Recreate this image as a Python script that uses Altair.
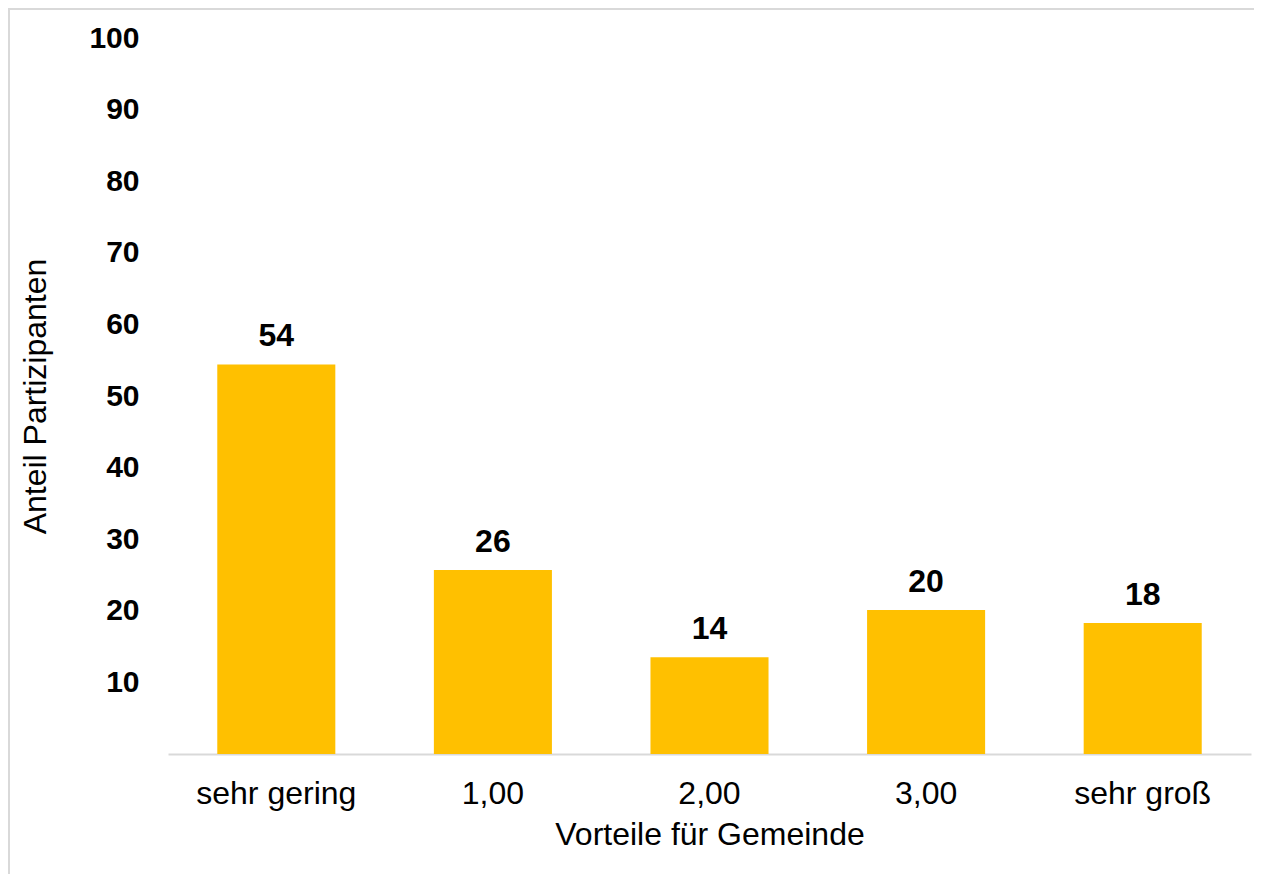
import altair as alt
import pandas as pd

categories = ["sehr gering", "1,00", "2,00", "3,00", "sehr groß"]
values = [54.4, 25.7, 13.5, 20.1, 18.3]
labels = ["54", "26", "14", "20", "18"]
y_ticks = [10, 20, 30, 40, 50, 60, 70, 80, 90, 100]

df = pd.DataFrame({"cat": categories, "val": values, "lab": labels})

FONT = "Liberation Sans"

x_enc = alt.X(
    "cat:N",
    sort=categories,
    scale=alt.Scale(paddingInner=0.455, paddingOuter=0.2275),
    axis=alt.Axis(
        title="Vorteile für Gemeinde",
        labelAngle=0,
        labelFontSize=32,
        labelFont=FONT,
        labelColor="#000000",
        labelPadding=24,
        ticks=False,
        domainColor="#d9d9d9",
        domainWidth=2,
        titleFontSize=32,
        titleFont=FONT,
        titleFontWeight="normal",
        titleColor="#000000",
        titlePadding=10,
    ),
)

y_enc = alt.Y(
    "val:Q",
    scale=alt.Scale(domain=[0, 100], nice=False),
    axis=alt.Axis(
        title="Anteil Partizipanten",
        values=y_ticks,
        grid=False,
        domain=False,
        ticks=False,
        labelFontSize=30,
        labelFont=FONT,
        labelFontWeight="bold",
        labelColor="#000000",
        labelPadding=29,
        titleFontSize=32,
        titleFont=FONT,
        titleFontWeight="normal",
        titleColor="#000000",
        titlePadding=36,
    ),
)

bars = alt.Chart(df).mark_bar(color="#FFC000").encode(x=x_enc, y=y_enc)

text = alt.Chart(df).mark_text(
    baseline="alphabetic", dy=-18, fontSize=32, fontWeight="bold", font=FONT, color="#000000"
).encode(x=alt.X("cat:N", sort=categories), y="val:Q", text="lab:N")

border = alt.Chart(df).mark_rect(fill=None, stroke="#d9d9d9", strokeWidth=2).encode(
    x=alt.value(-159), y=alt.value(-29), x2=alt.value(1200), y2=alt.value(2000)
)

chart = (
    alt.layer(border, bars, text)
    .properties(
        width=1083,
        height=716,
        background="#ffffff",
        autosize=alt.AutoSizeParams(type="none"),
        padding={"left": 160, "top": 30, "right": 3, "bottom": 120},
    )
    .configure_view(strokeWidth=0, stroke="transparent")
)

chart.save("out.html", embed_options={"renderer": "svg", "actions": False})
